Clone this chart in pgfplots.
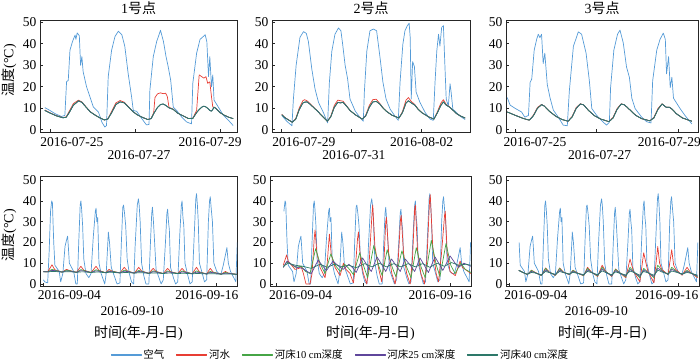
\documentclass[border=0pt]{standalone}
\usepackage{fontspec}
\setmainfont{Liberation Serif}
\newfontfamily\cjk{Noto Sans CJK SC}
\newcommand\zh[1]{{\cjk #1}}
\usepackage{pgfplots}
\pgfplotsset{compat=1.18}
\usepackage{pgfplotstable}

\definecolor{cAir}{RGB}{85,155,215}
\definecolor{cRiver}{RGB}{232,62,52}
\definecolor{cB10}{RGB}{70,165,70}
\definecolor{cB25}{RGB}{95,70,155}
\definecolor{cB40}{RGB}{45,120,105}

% ---------- top row: 1号点 ----------
\pgfplotstableread{
d T
-0.12 10.3
0.00 9.0
0.12 7.5
0.27 6.2
0.35 6.7
0.39 22.3
0.43 23.0
0.47 37.0
0.53 41.0
0.59 44.0
0.61 42.0
0.64 45.0
0.69 43.7
0.72 30.0
0.75 34.0
0.78 27.0
0.86 20.0
0.94 15.3
1.02 10.6
1.14 8.3
1.22 3.6
1.29 1.3
1.33 2.0
1.37 24.7
1.45 37.0
1.53 43.4
1.61 45.8
1.69 44.2
1.76 38.8
1.84 26.0
1.92 15.3
1.96 9.0
2.04 8.6
2.16 5.2
2.27 2.3
2.33 2.5
2.35 18.4
2.43 34.0
2.51 41.0
2.60 46.2
2.67 41.0
2.73 34.0
2.78 29.4
2.84 23.0
2.90 10.6
2.98 9.0
3.10 5.9
3.22 3.6
3.33 2.8
3.36 21.6
3.45 35.6
3.53 42.0
3.61 43.4
3.65 44.2
3.69 41.0
3.73 24.7
3.76 34.0
3.80 20.0
3.83 25.5
3.86 13.8
3.96 10.6
4.08 6.7
4.20 4.4
4.31 2.0
}\airA
\pgfplotstableread{
d water b10 b25 b40
-0.12 9.2 9.0 9.0 9.0
0.00 7.9 7.8 7.8 7.8
0.15 6.6 6.5 6.5 6.5
0.30 5.7 5.6 5.6 5.6
0.38 6.0 5.8 5.8 5.8
0.45 8.5 8.0 7.9 7.9
0.55 12.2 11.5 11.4 11.4
0.67 13.8 13.5 13.4 13.4
0.75 13.0 12.8 12.8 12.8
0.85 10.6 10.5 10.5 10.5
0.95 8.4 8.3 8.3 8.3
1.05 7.0 7.0 7.0 7.0
1.15 5.8 5.8 5.8 5.8
1.28 4.6 4.6 4.6 4.6
1.36 5.1 5.0 5.0 5.0
1.45 8.5 8.0 7.9 7.9
1.55 12.5 11.8 11.7 11.7
1.65 13.6 13.0 13.0 13.0
1.75 12.8 12.5 12.5 12.5
1.85 10.6 10.5 10.5 10.5
1.95 8.5 8.5 8.5 8.5
2.05 7.0 7.0 7.0 7.0
2.15 6.0 6.0 6.0 6.0
2.30 4.8 4.8 4.8 4.8
2.38 5.3 5.2 5.2 5.2
2.44 8.0 7.5 7.5 7.5
2.47 15.0 8.5 8.5 8.5
2.53 16.7 10.5 10.4 10.4
2.60 17.2 11.8 11.7 11.7
2.66 16.8 12.0 12.0 12.0
2.72 17.0 11.4 11.4 11.4
2.76 15.5 10.8 10.8 10.8
2.80 10.5 10.2 10.2 10.2
2.90 9.6 9.5 9.5 9.5
3.00 7.8 7.8 7.8 7.8
3.10 6.8 6.8 6.8 6.8
3.25 5.3 5.3 5.3 5.3
3.36 5.4 5.3 5.3 5.3
3.45 9.0 8.0 8.0 8.0
3.51 25.5 9.5 9.4 9.4
3.57 24.7 10.5 10.5 10.5
3.62 24.0 11.0 11.0 11.0
3.67 24.7 10.6 10.6 10.6
3.71 21.6 10.0 10.0 10.0
3.76 22.3 9.0 9.0 9.0
3.80 15.3 8.7 8.7 8.7
3.83 10.6 9.5 9.5 9.5
3.86 10.5 10.5 10.5 10.5
3.90 10.0 10.0 10.0 10.0
4.00 8.0 8.0 8.0 8.0
4.10 6.8 6.8 6.8 6.8
4.20 5.9 5.9 5.9 5.9
4.31 5.2 5.2 5.2 5.2
}\bedA

% ---------- top row: 2号点 ----------
\pgfplotstableread{
d T
0.00 6.7
0.14 4.0
0.29 1.9
0.33 14.0
0.41 30.0
0.52 43.0
0.62 45.6
0.70 44.8
0.76 41.0
0.86 28.0
0.95 19.0
1.05 12.7
1.19 8.0
1.29 4.0
1.31 3.2
1.36 22.0
1.43 36.5
1.52 44.4
1.62 47.3
1.69 46.0
1.74 39.7
1.81 30.0
1.88 23.8
1.95 14.3
2.10 8.7
2.24 5.6
2.33 4.0
2.36 17.5
2.43 36.5
2.52 46.0
2.62 46.8
2.71 46.0
2.81 33.3
2.89 22.2
2.98 14.3
3.10 9.5
3.24 6.3
3.33 4.4
3.38 22.0
3.46 39.7
3.52 46.0
3.59 48.4
3.64 49.5
3.67 43.0
3.70 14.3
3.74 31.7
3.79 29.4
3.84 17.5
3.95 12.7
4.10 8.0
4.24 5.0
4.33 4.4
4.38 22.0
4.43 36.5
4.48 44.4
4.52 38.9
4.57 47.6
4.62 48.4
4.65 35.0
4.70 14.3
4.76 11.0
4.81 21.4
4.84 17.5
4.89 9.5
4.95 8.7
5.10 6.3
5.24 4.8
}\airB
\pgfplotstableread{
d water b10 b25 b40
0.00 7.2 7.0 7.0 7.0
0.10 5.6 5.5 5.5 5.5
0.30 3.6 3.5 3.5 3.5
0.40 5.3 5.0 5.0 5.0
0.50 10.2 9.5 9.4 9.4
0.60 13.5 12.5 12.4 12.4
0.65 14.0 12.9 12.8 12.8
0.72 13.5 13.0 13.0 13.0
0.80 12.3 12.0 12.0 12.0
0.90 10.6 10.5 10.5 10.5
1.00 9.0 9.0 9.0 9.0
1.15 6.5 6.5 6.5 6.5
1.30 4.0 4.0 4.0 4.0
1.40 6.3 6.0 6.0 6.0
1.50 11.3 10.5 10.4 10.4
1.60 13.8 12.8 12.7 12.7
1.68 13.5 12.5 12.5 12.5
1.75 13.3 12.8 12.8 12.8
1.85 11.2 11.0 11.0 11.0
1.95 9.0 9.0 9.0 9.0
2.10 7.0 7.0 7.0 7.0
2.30 5.0 5.0 5.0 5.0
2.40 6.8 6.5 6.5 6.5
2.50 11.3 10.5 10.4 10.4
2.60 14.0 13.0 12.9 12.9
2.70 14.2 13.2 13.2 13.2
2.80 12.3 12.0 12.0 12.0
2.90 10.1 10.0 10.0 10.0
3.00 8.5 8.5 8.5 8.5
3.15 6.8 6.8 6.8 6.8
3.35 5.5 5.5 5.5 5.5
3.45 8.5 8.0 8.0 8.0
3.55 13.8 12.5 12.4 12.4
3.62 15.0 13.5 13.5 13.5
3.70 13.2 12.5 12.5 12.5
3.80 11.8 11.5 11.5 11.5
3.90 9.6 9.5 9.5 9.5
4.00 8.0 8.0 8.0 8.0
4.20 6.0 6.0 6.0 6.0
4.35 5.0 5.0 5.0 5.0
4.45 8.5 8.0 8.0 8.0
4.55 12.5 11.5 11.4 11.4
4.62 14.0 13.0 12.9 12.9
4.70 11.8 11.5 11.5 11.5
4.80 10.6 10.5 10.5 10.5
4.90 9.0 9.0 9.0 9.0
5.00 7.5 7.5 7.5 7.5
5.10 6.5 6.5 6.5 6.5
5.24 5.5 5.5 5.5 5.5
}\bedB

% ---------- top row: 3号点 ----------
\pgfplotstableread{
d T
-0.19 15.0
-0.12 11.5
0.00 10.0
0.16 8.3
0.24 5.9
0.33 6.7
0.37 22.0
0.41 23.6
0.47 37.0
0.53 42.0
0.57 44.4
0.61 42.8
0.65 44.4
0.69 30.8
0.73 35.6
0.79 21.0
0.86 14.7
0.94 9.1
1.06 5.9
1.18 2.2
1.28 1.9
1.33 18.0
1.43 38.8
1.55 45.5
1.63 44.4
1.74 35.6
1.82 22.8
1.88 9.9
2.00 6.7
2.12 4.3
2.24 2.2
2.31 3.5
2.34 19.6
2.42 37.0
2.51 44.4
2.57 46.3
2.65 40.4
2.73 29.2
2.80 24.4
2.86 14.7
2.94 9.9
3.10 5.9
3.22 3.8
3.33 3.2
3.37 22.8
3.47 37.0
3.55 42.0
3.63 44.9
3.68 42.0
3.71 26.0
3.76 34.0
3.80 19.6
3.84 24.4
3.88 14.7
3.96 12.3
4.04 9.9
4.16 6.7
4.33 2.7
}\airC
\pgfplotstableread{
d water b10 b25 b40
-0.19 8.3 8.3 8.3 8.3
0.00 6.8 6.8 6.8 6.8
0.20 5.3 5.3 5.3 5.3
0.35 4.5 4.5 4.5 4.5
0.45 6.8 6.5 6.5 6.5
0.55 10.4 10.0 10.0 10.0
0.65 11.8 11.7 11.7 11.7
0.72 11.0 11.0 11.0 11.0
0.85 8.5 8.5 8.5 8.5
1.00 6.3 6.3 6.3 6.3
1.15 4.8 4.8 4.8 4.8
1.30 4.0 4.0 4.0 4.0
1.40 6.3 6.0 6.0 6.0
1.50 10.4 10.0 10.0 10.0
1.60 12.1 12.0 12.0 12.0
1.68 11.6 11.6 11.6 11.6
1.80 9.0 9.0 9.0 9.0
1.95 6.5 6.5 6.5 6.5
2.10 5.0 5.0 5.0 5.0
2.30 3.8 3.8 3.8 3.8
2.40 5.8 5.5 5.5 5.5
2.50 9.9 9.5 9.5 9.5
2.60 12.1 12.0 12.0 12.0
2.68 11.6 11.6 11.6 11.6
2.80 9.5 9.5 9.5 9.5
2.95 6.8 6.8 6.8 6.8
3.10 5.2 5.2 5.2 5.2
3.30 4.2 4.2 4.2 4.2
3.40 5.8 5.5 5.5 5.5
3.50 9.9 9.5 9.5 9.5
3.60 12.1 12.0 12.0 12.0
3.70 10.5 10.5 10.5 10.5
3.78 10.5 10.5 10.5 10.5
3.85 9.5 9.5 9.5 9.5
3.95 7.5 7.5 7.5 7.5
4.10 5.5 5.5 5.5 5.5
4.33 4.0 4.0 4.0 4.0
}\bedC

% ---------- bottom row: air (same station for all three) ----------
\pgfplotstableread{
d T
0.00 2
0.10 1
0.30 0.5
0.40 15
0.50 35
0.58 40
0.63 39
0.68 28
0.72 20
0.80 9
0.95 7.5
1.10 6
1.20 1
1.35 5
1.50 18
1.60 21
1.68 23
1.73 18
1.80 10
1.95 8
2.10 6
2.25 0
2.35 0
2.45 20
2.55 38
2.60 40
2.65 36
2.72 28
2.80 12
2.95 5
3.15 3
3.30 5
3.45 22
3.60 35
3.65 36.5
3.70 30
3.76 32
3.85 10
4.00 5
4.15 2
4.25 0
4.35 5
4.45 18
4.50 25
4.58 20
4.70 8
4.90 4
5.10 0
5.30 0.5
5.40 20
5.50 37
5.55 38
5.62 34
5.70 28
5.80 12
5.95 5
6.10 1
6.25 0
6.35 18
6.50 38
6.58 41
6.63 38
6.70 30
6.80 10
6.95 4
7.10 0
7.30 0
7.40 18
7.50 34
7.55 37
7.62 30
7.70 20
7.80 7
7.95 4
8.15 0
8.30 2
8.45 20
8.55 34
8.60 36
8.66 30
8.72 26
8.80 8
9.00 3
9.15 0
9.30 1
9.45 25
9.55 38
9.60 40
9.66 32
9.72 28
9.80 10
10.00 4
10.15 0
10.30 1
10.45 25
10.55 41
10.60 43.5
10.66 38
10.72 30
10.80 10
11.00 5
11.15 1
11.30 2
11.42 30
11.50 40
11.55 42
11.62 36
11.70 30
11.80 10
12.00 6
12.15 5
12.30 5
12.45 9
12.60 14
12.70 17.5
12.80 10
12.95 6
13.10 4
13.25 2
13.32 1
13.42 20
}\airD

% ---------- bottom row: 1号点 ----------
\pgfplotstableread{
d water b10 b25 b40
0.00 6.0 5.9 5.9 5.8
0.30 5.8 5.8 5.8 5.8
0.60 9.2 7.0 6.5 6.0
0.80 6.8 6.6 6.4 6.0
1.30 5.7 5.7 5.7 5.7
1.60 7.0 6.6 6.3 5.9
1.80 6.5 6.4 6.2 5.9
2.30 5.6 5.6 5.6 5.6
2.60 8.5 6.9 6.4 5.8
2.80 6.6 6.5 6.2 5.8
3.30 5.5 5.5 5.5 5.5
3.65 8.5 6.8 6.3 5.7
3.85 6.5 6.4 6.1 5.7
4.30 5.4 5.4 5.4 5.4
4.55 7.0 6.3 6.0 5.6
4.75 6.2 6.1 5.9 5.6
5.30 5.3 5.3 5.3 5.3
5.60 8.0 6.6 6.1 5.5
5.80 6.3 6.2 6.0 5.5
6.30 5.2 5.2 5.2 5.2
6.60 8.0 6.5 6.0 5.4
6.80 6.2 6.1 5.9 5.4
7.30 5.1 5.1 5.1 5.1
7.60 7.5 6.3 5.9 5.3
7.80 6.0 5.9 5.7 5.3
8.30 5.0 5.0 5.0 5.0
8.60 7.5 6.2 5.8 5.2
8.80 5.9 5.8 5.6 5.2
9.30 5.0 5.0 5.0 5.0
9.60 7.5 6.2 5.8 5.1
9.80 5.9 5.8 5.6 5.1
10.30 4.9 4.9 4.9 4.9
10.60 8.0 6.3 5.7 5.0
10.80 5.8 5.7 5.5 5.0
11.30 4.8 4.8 4.8 4.8
11.55 7.5 6.0 5.6 4.9
11.75 5.7 5.6 5.4 4.9
12.30 4.7 4.7 4.7 4.7
12.60 6.0 5.5 5.2 4.8
12.80 5.2 5.2 5.1 4.8
13.40 4.6 4.6 4.6 4.6
}\bedD

% ---------- bottom row: 2号点 ----------
\pgfplotstableread{
d T
0.46 9
0.60 12
0.69 14
0.80 11
0.92 10
1.27 7
1.55 7.5
1.69 8.5
1.85 5
2.03 0
2.31 0
2.45 5
2.60 22
2.66 26
2.78 15
3.00 8
3.35 3
3.50 10
3.65 24
3.78 14
4.04 8
4.39 4
4.62 10
4.80 7
5.08 5
5.31 0.5
5.45 8
5.60 22
5.66 25
5.80 12
6.00 5
6.24 0
6.40 10
6.60 34
6.65 38
6.80 18
7.04 8
7.27 1
7.42 10
7.55 30
7.60 32
7.75 15
7.97 5
8.20 0
8.40 10
8.57 31
8.62 33
8.78 15
9.00 5
9.24 0
9.40 12
9.55 36
9.60 38
9.75 16
9.98 5
10.23 0
10.40 12
10.58 40
10.63 43
10.80 18
11.04 5
11.20 1
11.40 14
11.62 33
11.67 35
11.80 15
12.00 6
12.36 4
12.60 9
12.70 11
12.85 8
13.05 7
13.45 5
}\riverE
\pgfplotstableread{
d T
0.46 8
0.69 10.5
0.90 10
1.30 8
1.70 8.5
2.00 6
2.31 5
2.70 17
3.00 10
3.35 5
3.75 14.5
4.05 9
4.40 6
4.70 9.5
5.05 7
5.31 4.5
5.75 15
6.05 8
6.30 3
6.72 18.5
7.05 9
7.30 4
7.65 16.5
8.00 8
8.25 3.5
8.67 16
9.00 8
9.30 3
9.66 17.5
10.00 8
10.28 3
10.70 21
11.05 9
11.30 3.5
11.72 19.5
12.05 9
12.35 5
12.75 10
13.05 7
13.45 5.5
}\tenE
\pgfplotstableread{
d T
0.46 8
0.72 11
1.00 9.5
1.40 8
1.80 7.5
2.10 6
2.40 5
2.87 11.5
3.20 8.5
3.45 6.5
3.90 11
4.30 8.5
4.60 7
5.00 9.5
5.30 7.5
5.50 5.5
5.95 12.5
6.30 8.5
6.55 6
6.95 13
7.30 9
7.55 6
7.95 12
8.30 8.5
8.55 6
8.90 12
9.30 8.5
9.55 6
9.92 12.5
10.30 8
10.50 5.5
10.96 13
11.30 9
11.50 6.5
12.00 13.5
12.35 10
12.60 8
12.95 10
13.45 8.5
}\tfE
\pgfplotstableread{
d T
0.46 8.5
0.80 10
1.30 9
1.80 8.5
2.40 7.5
3.00 9.5
3.50 8
4.00 9.5
4.50 8.3
5.00 9
5.50 7.8
6.10 9.8
6.60 8.2
7.10 10
7.60 8.2
8.10 9.8
8.60 8.2
9.10 9.8
9.60 8.2
10.10 9.8
10.60 8
11.10 10
11.60 8.5
12.10 10.3
12.60 9
13.10 9.5
13.45 9
}\foE

% ---------- bottom row: 3号点 ----------
\pgfplotstableread{
d water b10 b25 b40
0.70 6.6 6.5 6.5 6.5
1.00 5.5 5.5 5.5 5.5
1.30 4.5 4.5 4.6 4.7
1.60 6.6 6.5 6.0 5.5
1.85 5.6 5.5 5.4 5.3
2.30 4.0 4.0 4.2 4.4
2.60 7.7 7.5 6.8 6.0
2.85 5.8 5.7 5.6 5.5
3.30 4.1 4.2 4.4 4.6
3.60 7.7 7.5 6.8 6.0
3.85 5.8 5.7 5.6 5.5
4.30 4.4 4.5 4.6 4.8
4.55 6.6 6.5 6.0 5.6
4.80 5.5 5.4 5.3 5.2
5.30 3.9 4.0 4.2 4.5
5.58 8.0 7.5 6.8 6.0
5.85 5.8 5.7 5.6 5.5
6.30 3.6 3.8 4.1 4.4
6.62 9.0 8.0 7.2 6.3
6.88 6.0 5.9 5.7 5.5
7.30 3.6 3.8 4.0 4.4
7.57 7.2 7.0 6.4 5.8
7.85 5.5 5.4 5.3 5.2
8.30 3.0 3.5 3.9 4.3
8.60 12.0 8.0 7.0 6.2
8.85 6.0 6.0 5.8 5.6
9.30 1.0 3.0 3.6 4.2
9.57 15.0 7.5 6.8 6.0
9.85 6.5 5.8 5.6 5.4
10.30 0.5 3.0 3.6 4.2
10.57 18.0 9.0 7.5 6.5
10.70 10.0 8.0 7.0 6.3
10.85 7.0 6.5 6.2 5.8
11.30 4.5 4.5 4.6 4.8
11.56 16.5 8.0 7.0 6.2
11.70 9.0 7.2 6.6 6.0
11.85 7.0 6.3 6.0 5.7
12.30 4.2 4.5 4.6 4.8
12.65 8.0 6.5 6.0 5.5
12.90 5.5 5.4 5.3 5.2
13.40 3.0 3.5 3.8 4.2
}\bedF

\pgfplotsset{
  panel/.style={
    scale only axis, anchor=south west,
    ymin=-1, ytick={0,10,20,30,40,50},
    tick pos=left, tick align=inside, major tick length=3pt,
    tick label style={font=\fontsize{13.5}{15}\selectfont},
    /pgf/number format/assume math mode=true,
    axis line style={black!85, line width=0.7pt},
    every tick/.style={black!85, line width=0.7pt},
    title style={font=\fontsize{14}{16}\selectfont, yshift=-4pt},
    label style={font=\fontsize{14}{16}\selectfont},
    every axis plot/.append style={line width=0.7pt, line join=round},
    no markers,
  },
  datelab/.style n args={5}{
    xticklabel style={
      xshift={ifthenelse(\ticknum==0,#1,ifthenelse(\ticknum==1,#2,#3))},
      yshift={ifthenelse(\ticknum==1,#4,#5)}}},
  toprow/.style={height=112pt, ymax=51, xtick={0,2,4}},
  botrow/.style={height=110pt, ymax=52, xtick={0,6,12},
    xticklabels={2016-09-04,2016-09-10,2016-09-16},
    xlabel={\zh{时间}(\zh{年}-\zh{月}-\zh{日})},
    xlabel style={at={(axis description cs:0.5,-0.43)}, anchor=center}},
}

\begin{document}
\begin{tikzpicture}
\useasboundingbox (0pt,0pt) rectangle (700pt,361pt);

% 1号点 (top)
\begin{axis}[panel, toprow, at={(40pt,229pt)}, width=197pt,
  xmin=-0.235, xmax=4.4,
  xticklabels={2016-07-25,2016-07-27,2016-07-29},
  datelab={22}{4}{-10}{-14.5}{-2},
  title={1\zh{号点}},
  ylabel={\zh{温度}(°C)},
  ylabel style={at={(axis description cs:-0.157,0.55)}, anchor=center}]
\addplot[color=cAir] table[x=d,y=T]{\airA};
\addplot[color=cRiver] table[x=d,y=water]{\bedA};
\addplot[color=cB10] table[x=d,y=b10]{\bedA};
\addplot[color=cB25] table[x=d,y=b25]{\bedA};
\addplot[color=cB40] table[x=d,y=b40]{\bedA};
\end{axis}

% 2号点 (top)
\begin{axis}[panel, toprow, at={(272pt,229pt)}, width=198pt,
  xmin=-0.28, xmax=5.38,
  xticklabels={2016-07-29,2016-07-31,2016-08-02},
  datelab={22}{2}{0}{-14.5}{-2},
  title={2\zh{号点}}]
\addplot[color=cAir] table[x=d,y=T]{\airB};
\addplot[color=cRiver] table[x=d,y=water]{\bedB};
\addplot[color=cB10] table[x=d,y=b10]{\bedB};
\addplot[color=cB25] table[x=d,y=b25]{\bedB};
\addplot[color=cB40] table[x=d,y=b40]{\bedB};
\end{axis}

% 3号点 (top)
\begin{axis}[panel, toprow, at={(506pt,229pt)}, width=192pt,
  xmin=-0.22, xmax=4.48,
  xticklabels={2016-07-25,2016-07-27,2016-07-29},
  datelab={20}{3}{-9}{-14.5}{-2},
  title={3\zh{号点}}]
\addplot[color=cAir] table[x=d,y=T]{\airC};
\addplot[color=cRiver] table[x=d,y=water]{\bedC};
\addplot[color=cB10] table[x=d,y=b10]{\bedC};
\addplot[color=cB25] table[x=d,y=b25]{\bedC};
\addplot[color=cB40] table[x=d,y=b40]{\bedC};
\end{axis}

% 1号点 (bottom)
\begin{axis}[panel, botrow, at={(40pt,75pt)}, width=197pt,
  xmin=-0.23, xmax=13.4,
  datelab={26}{2}{-10}{-17}{-1},
  ylabel={\zh{温度}(°C)},
  ylabel style={at={(axis description cs:-0.157,0.46)}, anchor=center}]
\addplot[color=cAir] table[x=d,y=T]{\airD};
\addplot[color=cRiver] table[x=d,y=water]{\bedD};
\addplot[color=cB10] table[x=d,y=b10]{\bedD};
\addplot[color=cB25] table[x=d,y=b25]{\bedD};
\addplot[color=cB40] table[x=d,y=b40]{\bedD};
\end{axis}

% 2号点 (bottom), carries the legend
\begin{axis}[panel, botrow, at={(270pt,75pt)}, width=201pt,
  xmin=-0.46, xmax=13.45,
  datelab={24}{3}{-10}{-17}{-1},
  legend columns=5,
  legend style={draw=none, fill=none, at={(0.35,-0.627)}, anchor=center,
    font=\fontsize{10.5}{12}\selectfont,
    /tikz/every even column/.append style={column sep=10pt}}]
\addplot[color=cAir, restrict x to domain=0.45:14,
  legend image code/.code={\fill[fill=cAir] (0pt,-0.5pt) rectangle (30pt,0.5pt);}]
  table[x=d,y=T]{\airD};
\addlegendentry{\zh{空气}}
\addplot[color=cRiver,
  legend image code/.code={\fill[fill=cRiver] (0pt,-0.5pt) rectangle (30pt,0.5pt);}]
  table[x=d,y=T]{\riverE};
\addlegendentry{\zh{河水}}
\addplot[color=cB10,
  legend image code/.code={\fill[fill=cB10] (0pt,-0.5pt) rectangle (30pt,0.5pt);}]
  table[x=d,y=T]{\tenE};
\addlegendentry{\zh{河床}10 cm\zh{深度}}
\addplot[color=cB25,
  legend image code/.code={\fill[fill=cB25] (0pt,-0.5pt) rectangle (30pt,0.5pt);}]
  table[x=d,y=T]{\tfE};
\addlegendentry{\zh{河床}25 cm\zh{深度}}
\addplot[color=cB40,
  legend image code/.code={\fill[fill=cB40] (0pt,-0.5pt) rectangle (30pt,0.5pt);}]
  table[x=d,y=T]{\foE};
\addlegendentry{\zh{河床}40 cm\zh{深度}}
\end{axis}

% 3号点 (bottom)
\begin{axis}[panel, botrow, at={(506pt,75pt)}, width=193pt,
  xmin=-0.21, xmax=13.5,
  datelab={27}{3}{-11}{-17}{-1}]
\addplot[color=cAir, restrict x to domain=0.7:14] table[x=d,y=T]{\airD};
\addplot[color=cRiver] table[x=d,y=water]{\bedF};
\addplot[color=cB10] table[x=d,y=b10]{\bedF};
\addplot[color=cB25] table[x=d,y=b25]{\bedF};
\addplot[color=cB40] table[x=d,y=b40]{\bedF};
\end{axis}
\end{tikzpicture}
\end{document}
